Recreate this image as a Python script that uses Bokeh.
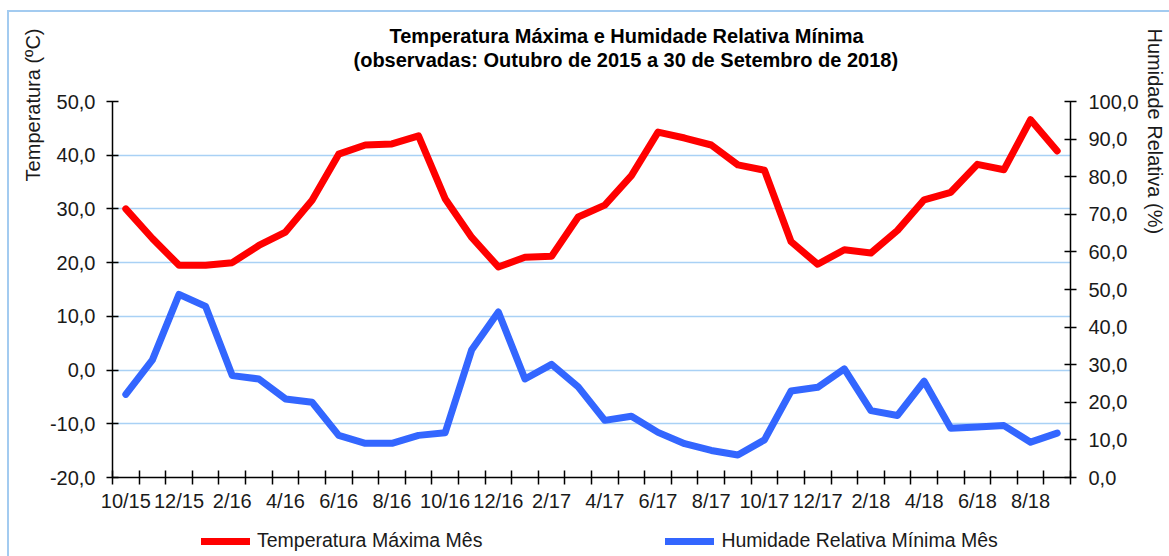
from bokeh.plotting import figure
from bokeh.layouts import column
from bokeh.models import Range1d, LinearAxis, FixedTicker, Title, Legend, LegendItem
from bokeh.embed import file_html
from bokeh.resources import INLINE

# ---------------- data ----------------
months = ["10/15", "11/15", "12/15", "1/16", "2/16", "3/16", "4/16", "5/16", "6/16", "7/16",
          "8/16", "9/16", "10/16", "11/16", "12/16", "1/17", "2/17", "3/17", "4/17", "5/17",
          "6/17", "7/17", "8/17", "9/17", "10/17", "11/17", "12/17", "1/18", "2/18", "3/18",
          "4/18", "5/18", "6/18", "7/18", "8/18", "9/18"]

temp_max = [30.0, 24.5, 19.5, 19.5, 20.0, 23.2, 25.7, 31.6, 40.2, 41.9,
            42.1, 43.6, 31.9, 24.7, 19.2, 21.0, 21.2, 28.5, 30.7, 36.2,
            44.3, 43.2, 41.9, 38.2, 37.2, 23.9, 19.7, 22.4, 21.8, 26.0,
            31.7, 33.1, 38.3, 37.3, 46.6, 40.8]

hum_min = [22.1, 31.3, 48.7, 45.5, 27.1, 26.2, 20.9, 20.0, 11.2, 9.1,
           9.1, 11.2, 11.9, 34.0, 44.0, 26.2, 30.1, 24.1, 15.2, 16.3,
           12.0, 9.0, 7.2, 6.0, 10.0, 23.0, 24.0, 28.9, 17.8, 16.5,
           25.6, 13.1, 13.4, 13.8, 9.4, 11.8]

temp_ticks = [-20, -10, 0, 10, 20, 30, 40, 50]
temp_tick_labels = ["-20,0", "-10,0", "0,0", "10,0", "20,0", "30,0", "40,0", "50,0"]
hum_ticks = [0, 10, 20, 30, 40, 50, 60, 70, 80, 90, 100]
hum_tick_labels = ["0,0", "10,0", "20,0", "30,0", "40,0", "50,0", "60,0", "70,0", "80,0", "90,0", "100,0"]

title_line1 = "Temperatura Máxima e Humidade Relativa Mínima"
title_line2 = "(observadas: Outubro de 2015 a 30 de Setembro de 2018)"
left_label = "Temperatura (ºC)"
right_label = "Humidade Relativa (%)"
series_names = ["Temperatura Máxima Mês", "Humidade Relativa Mínima Mês"]

# ---------------- main figure ----------------
FONT = "Liberation Sans"
TXT = "#1a1a1a"
RED = "#ff0000"
BLUE = "#3366ff"
EDGE = "#a3cbf0"
x = list(range(len(months)))

p = figure(width=1169, height=514, output_backend="svg", toolbar_location=None,
           x_range=Range1d(-0.5, len(months) - 0.5), y_range=Range1d(-20, 50),
           min_border_left=112, min_border_right=98, min_border_top=101, min_border_bottom=37)
p.outline_line_color = None
p.background_fill_color = None
p.border_fill_color = None

# x axis: labels every 2 months, ticks at category boundaries
label_idx = x[::2]
xa = p.xaxis[0]
xa.ticker = FixedTicker(ticks=label_idx, minor_ticks=[i - 0.5 for i in range(len(months) + 1)])
xa.major_label_overrides = {i: months[i] for i in label_idx}
xa.major_tick_in = 0
xa.major_tick_out = 7
xa.major_tick_line_color = None
xa.minor_tick_in = 7
xa.minor_tick_out = 7
xa.minor_tick_line_color = "black"
xa.minor_tick_line_width = 1.5
xa.axis_line_color = "black"
xa.axis_line_width = 1.5
xa.major_label_standoff = 5
xa.major_label_text_font = FONT
xa.major_label_text_font_size = "20px"
xa.major_label_text_color = TXT

# left y axis
ya = p.yaxis[0]
ya.ticker = FixedTicker(ticks=temp_ticks)
ya.major_label_overrides = dict(zip(temp_ticks, temp_tick_labels))
ya.major_tick_in = 6
ya.major_tick_out = 6
ya.major_tick_line_color = "black"
ya.major_tick_line_width = 1.5
ya.minor_tick_line_color = None
ya.axis_line_color = "black"
ya.axis_line_width = 1.5
ya.major_label_standoff = 11
ya.major_label_text_font = FONT
ya.major_label_text_font_size = "20px"
ya.major_label_text_color = TXT

# right y axis
p.extra_y_ranges = {"hum": Range1d(0, 100)}
ra = LinearAxis(y_range_name="hum", ticker=FixedTicker(ticks=hum_ticks),
                major_label_overrides=dict(zip(hum_ticks, hum_tick_labels)))
ra.major_tick_in = 6
ra.major_tick_out = 6
ra.major_tick_line_color = "black"
ra.major_tick_line_width = 1.5
ra.minor_tick_line_color = None
ra.axis_line_color = "black"
ra.axis_line_width = 1.5
ra.major_label_standoff = 12
ra.major_label_text_font = FONT
ra.major_label_text_font_size = "20px"
ra.major_label_text_color = TXT
p.add_layout(ra, "right")

# grid
p.xgrid.visible = False
p.ygrid.ticker = FixedTicker(ticks=temp_ticks)
p.ygrid.grid_line_color = "#a9d1f5"
p.ygrid.grid_line_width = 1.5

# lines
p.line(x, temp_max, line_color=RED, line_width=7, line_join="round", line_cap="round")
p.line(x, hum_min, y_range_name="hum", line_color=BLUE, line_width=7,
       line_join="round", line_cap="round")

# spacer between frame and the two title lines
p.add_layout(Title(text=" ", standoff=18, text_font=FONT, text_font_size="10px"), "above")
# titles (line 2 first: closest to the frame)
p.add_layout(Title(text=title_line2, align="left", offset=241, standoff=0,
                   text_font=FONT, text_font_style="bold", text_font_size="20px",
                   text_color="black"), "above")
p.add_layout(Title(text=title_line1, align="left", offset=277, standoff=0,
                   text_font=FONT, text_font_style="bold", text_font_size="20px",
                   text_color="black"), "above")

# axis titles
p.add_layout(Title(text=left_label, align="right", offset=-73, standoff=5,
                   text_font=FONT, text_font_style="normal", text_font_size="20px",
                   text_color=TXT), "left")
p.add_layout(Title(text=right_label, align="left", offset=-73, standoff=4,
                   text_font=FONT, text_font_style="normal", text_font_size="20px",
                   text_color=TXT), "right")

# ---------------- legend strip (frame aligned with main frame by the column) ----------------
pl = figure(width=1169, height=42, output_backend="svg", toolbar_location=None,
            x_axis_type=None, y_axis_type=None,
            x_range=Range1d(-0.5, len(months) - 0.5), y_range=Range1d(1000, 1001),
            min_border_left=0, min_border_right=0, min_border_top=0, min_border_bottom=0)
pl.outline_line_color = None
pl.background_fill_color = None
pl.border_fill_color = None
# same series, drawn outside this strip's visible range: only their legend samples show
lt = pl.line(x, temp_max, line_color=RED, line_width=7, line_cap="round")
lh = pl.line(x, hum_min, line_color=BLUE, line_width=7, line_cap="round")
lg = Legend(items=[LegendItem(label=series_names[0], renderers=[lt]),
                   LegendItem(label=series_names[1], renderers=[lh])],
            orientation="horizontal", location=(89, 4),
            glyph_width=49, glyph_height=22, label_height=22, label_standoff=7, spacing=183,
            padding=0, margin=0, border_line_color=None, background_fill_alpha=0,
            label_text_font=FONT, label_text_font_size="19.5px", label_text_color=TXT)
pl.add_layout(lg)

layout = column(p, pl, spacing=0)
# thin light-blue chart border (left and top edges), painted behind the transparent canvases
layout.styles = {
    "background-color": "white",
    "background-image": f"linear-gradient({EDGE}, {EDGE}), linear-gradient({EDGE}, {EDGE})",
    "background-size": "2px 100%, 100% 2px",
    "background-position": "7px 10px, 7px 10px",
    "background-repeat": "no-repeat",
}
open("out.html", "w").write(file_html(layout, INLINE))
